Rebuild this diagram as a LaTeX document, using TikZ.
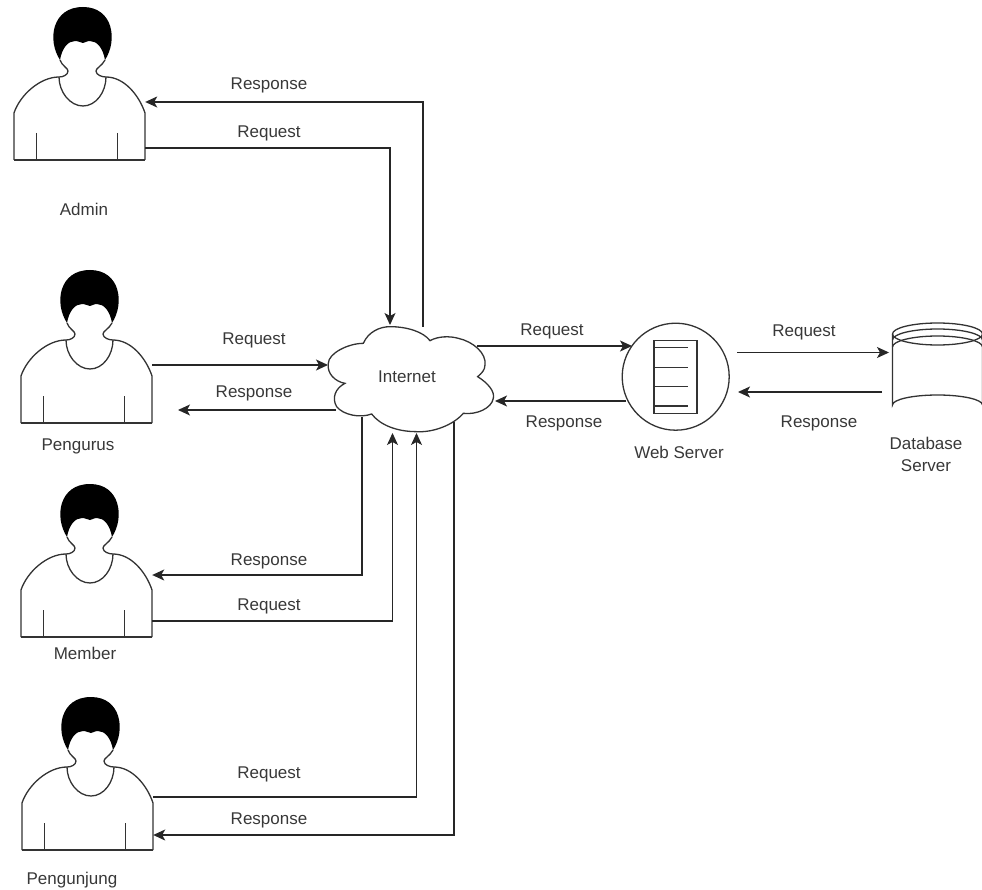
\documentclass[tikz,border=0pt]{standalone}
\usepackage{fontspec}
\setmainfont{Liberation Sans}
\usetikzlibrary{arrows.meta}

\tikzset{
	every label text/.style={text=black!78, font=\fontsize{17}{22}\selectfont, inner sep=0pt, align=center},
	wire/.style={line width=1.2pt, draw=black!85, ->},
	outline/.style={line width=1.3pt, draw=black!80},
	person/.style={minimum width=131pt, minimum height=152pt, inner sep=0pt},
	pics/personfig/.style={code={
		\begin{scope}[shift={(-79.5,-84)}]
			\fill [black] (60,60) .. controls (47,40) and (52,7) .. (83,7)
				.. controls (113,7) and (118,40) .. (105,60)
				.. controls (103,48) and (97,41) .. (90,41)
				.. controls (86,41) and (85,43) .. (83,43)
				.. controls (81,43) and (79,41) .. (75,41)
				.. controls (68,41) and (62,48) .. (60,60) -- cycle;
			\draw [outline] (14,160) -- (14,113) .. controls (20,95) and (40,77) .. (59,77)
				.. controls (63,77) and (68,75) .. (68,71)
				.. controls (68,68) and (62,66) .. (60,60);
			\draw [outline] (145,160) -- (145,113) .. controls (139,95) and (124,77) .. (106,77)
				.. controls (102,77) and (96,75) .. (96,71)
				.. controls (96,68) and (102,66) .. (105,60);
			\draw [outline] (14,160) -- (145,160);
			\draw [outline] (59,77) .. controls (59,92) and (70,106) .. (83,106)
				.. controls (96,106) and (106,92) .. (106,77);
			\draw [outline] (36.7,133) -- (36.7,160);
			\draw [outline] (117.7,133) -- (117.7,160);
		\end{scope}
	}}
}

\begin{document}
\begin{tikzpicture}[x=1pt, y=-1pt, >={Stealth[length=12pt, width=11pt, inset=3pt]}]
	\useasboundingbox (0,0) rectangle (982,890);

	\foreach \m/\x/\y in {admin/79.5/84, pengurus/86.5/347, member/86.5/561, pengunjung/87.5/774}{
		\node [person] (\m) at (\x,\y) {};
		\pic at (\m) {personfig};
	}

	% cloud
	\node [minimum width=165pt, minimum height=105pt, inner sep=0pt] (internet) at (410.5,379.5) {};
	\draw [outline, shift={(310,310)}, scale=0.3333] (160,100)
		.. controls (175,65) and (210,50) .. (240,50)
		.. controls (290,50) and (340,65) .. (360,92)
		.. controls (385,78) and (420,78) .. (445,85)
		.. controls (490,95) and (530,130) .. (525,165)
		.. controls (525,180) and (515,190) .. (503,200)
		.. controls (535,220) and (555,245) .. (550,265)
		.. controls (545,295) and (500,315) .. (460,310)
		.. controls (430,345) and (370,368) .. (320,365)
		.. controls (260,365) and (210,345) .. (185,312)
		.. controls (150,325) and (100,315) .. (80,290)
		.. controls (65,265) and (75,235) .. (105,220)
		.. controls (75,215) and (50,190) .. (55,160)
		.. controls (55,130) and (115,100) .. (160,100) -- cycle;
	\node [every label text/.try] (internetlabel) at (407,377) {Internet};

	% web server
	\node [circle, outline, draw, minimum size=107pt, inner sep=0pt] (web) at (675.7,376.7) {};
	\node [outline, draw, minimum width=43pt, minimum height=73pt, inner sep=0pt] (rack) at (675.5,377.3) {};
	\foreach \y in {347.7,367.3,386.7,406}
		\draw [outline] (rack.west |- 0,\y) -- (688,\y);

	% database
	\node [minimum width=90pt, minimum height=92pt, inner sep=0pt] (db) at (937.5,369) {};
	\draw [outline] (892.5,334) -- (892.5,405) arc [start angle=180, end angle=0, x radius=45, y radius=-10] -- (982.5,334);
	\draw [outline] (937.5,334) ellipse [x radius=45, y radius=11];
	\foreach \y in {340,347}
		\draw [outline] (892.5,\y) arc [start angle=180, end angle=0, x radius=45, y radius=-11];

	% admin
	\draw [wire] (internet.north -| 423,0) -- (423,102) -- (admin.east |- 0,102);
	\draw [wire] (admin.east |- 0,148) -- (390,148) -- (390,325);
	% pengurus
	\draw [wire] (pengurus.east |- 0,365) -- (328,365);
	\draw [wire] (336,410) -- (178,410);
	% member
	\draw [wire] (362,417) -- (362,575) -- (member.east |- 0,575);
	\draw [wire] (member.east |- 0,621) -- (392.5,621) -- (392.5,433);
	% pengunjung
	\draw [wire] (pengunjung.east |- 0,797) -- (416.5,797) -- (416.5,433);
	\draw [wire] (454,422) -- (454,835) -- (pengunjung.east |- 0,835);
	% servers
	\draw [wire] (477,346) -- (632,346);
	\draw [wire] (626,401) -- (495,401);
	\draw [wire] (737,352.5) -- (889,352.5);
	\draw [wire] (882,392) -- (738,392);

	\foreach \n/\x/\y/\t in {l1/269/85/Response, l2/269/133/Request, l3/254/340/Request, l4/254/393/Response,
		l5/269/561/Response, l6/269/606/Request, l7/269/774/Request, l8/269/820/Response,
		l9/552/331/Request, l10/564/423/Response, l11/804/332/Request, l12/819/423/Response,
		l13/679/452/Web Server, l14/926/454/Database\\Server, l15/84/209/Admin, l16/78/446/Pengurus,
		l17/85/653/Member, l18/72/880/Pengunjung}
		\node [every label text/.try] (\n) at (\x,\y) {\t};
\end{tikzpicture}
\end{document}
